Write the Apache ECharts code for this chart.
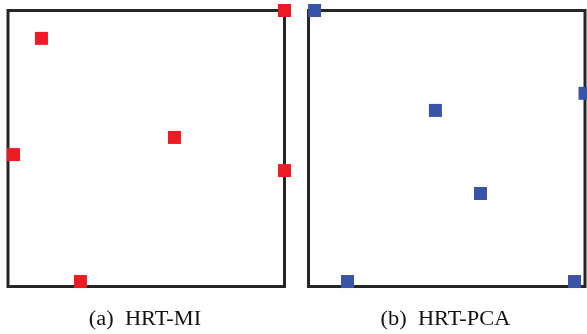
<!DOCTYPE html>
<html>
<head>
<meta charset="utf-8">
<script src="https://cdn.jsdelivr.net/npm/echarts@6/dist/echarts.min.js"></script>
<style>html,body{margin:0;padding:0;background:#fff;}#c{width:587px;height:334px;}</style>
</head>
<body>
<div id="c"></div>
<script>
const captions = ['(a)  HRT-MI', '(b)  HRT-PCA'];
const miX = [1.0, 0.121, 0.602, 0.02, 1.0, 0.262];
const miY = [1.0, 0.899, 0.54, 0.478, 0.42, 0.018];
const pcaX = [0.022, 1.0, 0.459, 0.622, 0.141, 0.962];
const pcaY = [1.0, 0.70, 0.638, 0.337, 0.018, 0.018];

const chart = echarts.init(document.getElementById('c'), null, {renderer: 'canvas'});
const axisBase = {
  type: 'value', min: 0, max: 1,
  axisLine: {show: false}, axisTick: {show: false},
  axisLabel: {show: false}, splitLine: {show: false}
};
const gridBase = {show: true, borderColor: '#262626', borderWidth: 3, backgroundColor: '#fff', top: 10.5, height: 276, width: 276.5};
function pts(xs, ys) { return xs.map((x, i) => [x, ys[i]]); }

chart.setOption({
  animation: false,
  backgroundColor: '#fff',
  grid: [
    Object.assign({left: 8}, gridBase),
    Object.assign({left: 308.5}, gridBase)
  ],
  xAxis: [Object.assign({gridIndex: 0}, axisBase), Object.assign({gridIndex: 1}, axisBase)],
  yAxis: [Object.assign({gridIndex: 0}, axisBase), Object.assign({gridIndex: 1}, axisBase)],
  series: [
    {type: 'scatter', xAxisIndex: 0, yAxisIndex: 0, symbol: 'rect', symbolSize: 13, clip: false,
     itemStyle: {color: '#ed1c24', opacity: 1}, data: pts(miX, miY)},
    {type: 'scatter', xAxisIndex: 1, yAxisIndex: 1, symbol: 'rect', symbolSize: 13, clip: false,
     itemStyle: {color: '#3953a6', opacity: 1}, data: pts(pcaX, pcaY)}
  ],
  graphic: [
    {type: 'text', x: 145, y: 319.5, scaleX: 1.12,
     style: {text: captions[0], x: 0, y: 0, align: 'center', verticalAlign: 'middle',
             font: '20px "Liberation Serif", "DejaVu Serif", serif', fill: '#111'}},
    {type: 'text', x: 445.5, y: 319.5, scaleX: 1.12,
     style: {text: captions[1], x: 0, y: 0, align: 'center', verticalAlign: 'middle',
             font: '20px "Liberation Serif", "DejaVu Serif", serif', fill: '#111'}}
  ]
});
</script>
</body>
</html>
